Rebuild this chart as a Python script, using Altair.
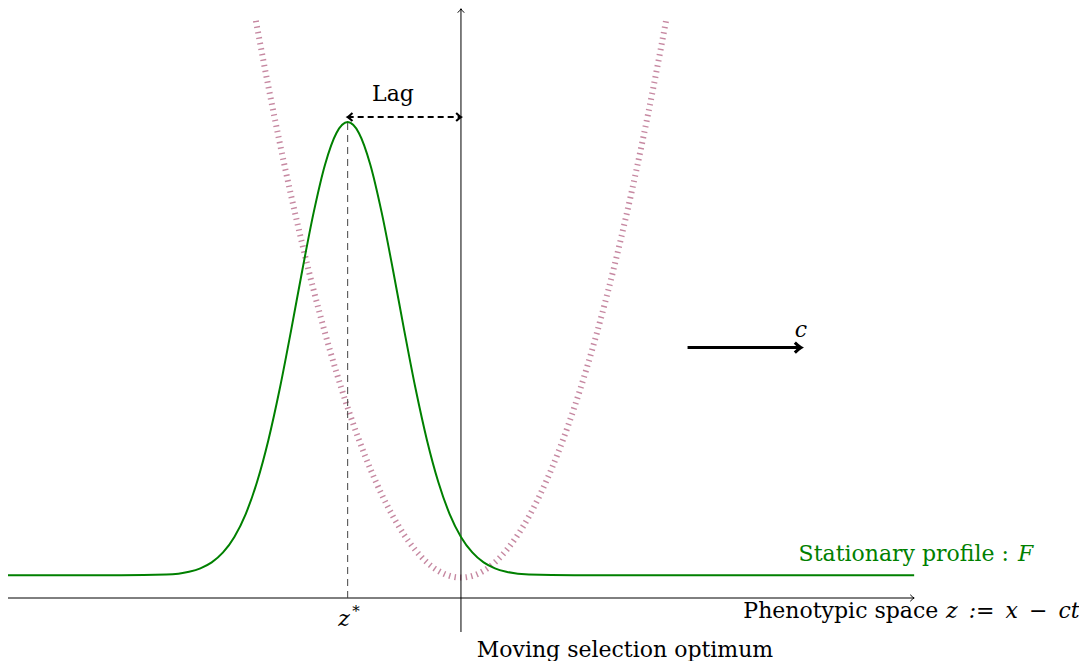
import altair as alt
import pandas as pd

X_DOMAIN = [-3.998, 5.455]
Y_DOMAIN = [-0.556, 5.207]

# Stationary profile F (green)
f_z = [-4.0, -3.0, -2.6, -2.4, -2.3, -2.2, -2.1, -2.0, -1.9, -1.8, -1.7, -1.6, -1.5, -1.4, -1.3,
       -1.2, -1.1, -1.0, -0.9, -0.8, -0.7, -0.6, -0.5, -0.4, -0.3, -0.2, -0.1, 0.0, 0.1, 0.2,
       0.3, 0.4, 0.6, 1.0, 4.0]
f_y = [0.2, 0.2, 0.207, 0.232, 0.262, 0.314, 0.402, 0.539, 0.741, 1.024, 1.393, 1.844, 2.358, 2.895, 3.403,
       3.824, 4.102, 4.2, 4.102, 3.824, 3.403, 2.895, 2.358, 1.844, 1.393, 1.024, 0.741, 0.539, 0.402, 0.314,
       0.262, 0.232, 0.207, 0.2, 0.2]

# Selection function (dotted)
s_z = [-1.81, -1.7, -1.6, -1.5, -1.4, -1.3, -1.2, -1.1, -1.0, -0.9, -0.8, -0.7, -0.6, -0.5, -0.4, -0.3,
       -0.2, -0.1, 0.0, 0.1, 0.2, 0.3, 0.4, 0.5, 0.6, 0.7, 0.8, 0.9, 1.0, 1.1, 1.2, 1.3, 1.4, 1.5,
       1.6, 1.7, 1.81]
s_y = [5.094, 4.515, 4.02, 3.555, 3.12, 2.715, 2.34, 1.995, 1.68, 1.395, 1.14, 0.915, 0.72, 0.555, 0.42, 0.315,
       0.24, 0.195, 0.18, 0.195, 0.24, 0.315, 0.42, 0.555, 0.72, 0.915, 1.14, 1.395, 1.68, 1.995, 2.34, 2.715,
       3.12, 3.555, 4.02, 4.515, 5.094]

z_star = -1.0
peak = 4.2
lag_y = 4.245

xs = alt.Scale(domain=X_DOMAIN, nice=False, zero=False)
ys = alt.Scale(domain=Y_DOMAIN, nice=False, zero=False)


def X(f="z"):
    return alt.X(f"{f}:Q", scale=xs, axis=None)


def Y(f="y"):
    return alt.Y(f"{f}:Q", scale=ys, axis=None)


ARROW = "M-1.2,-1 Q-0.45,-0.25 0,0 Q-0.45,0.25 -1.2,1"

# axes
axes_df = pd.DataFrame({"z": [-4.0, 0.0], "z2": [4.0, 0.0], "y": [0.0, -0.3], "y2": [0.0, 5.2]})
axes = alt.Chart(axes_df).mark_rule(color="black", strokeWidth=1).encode(
    x=X(), x2="z2:Q", y=Y(), y2="y2:Q")
axes_heads_df = pd.DataFrame({"z": [4.0, 0.0], "y": [0.0, 5.2], "angle": [0, 270]})
axes_heads = alt.Chart(axes_heads_df).mark_point(
    shape=ARROW, filled=False, stroke="black", strokeWidth=1, size=42, opacity=1
).encode(x=X(), y=Y(), angle=alt.Angle("angle:Q", scale=None))

# z* dashed
zs_df = pd.DataFrame({"z": [z_star], "y": [0.0], "y2": [peak]})
zs_line = alt.Chart(zs_df).mark_rule(color="#444444", strokeWidth=1, strokeDash=[7, 5]).encode(
    x=X(), y=Y(), y2="y2:Q")

# lag arrow
lag_df = pd.DataFrame({"z": [z_star], "z2": [0.0], "y": [lag_y]})
lag_line = alt.Chart(lag_df).mark_rule(color="black", strokeWidth=2, strokeDash=[6, 4]).encode(
    x=X(), x2="z2:Q", y=Y())
lag_heads_df = pd.DataFrame({"z": [z_star, 0.0], "y": [lag_y, lag_y], "angle": [180, 0]})
lag_heads = alt.Chart(lag_heads_df).mark_point(
    shape=ARROW, filled=False, stroke="black", strokeWidth=2, size=64, opacity=1
).encode(x=X(), y=Y(), angle=alt.Angle("angle:Q", scale=None))

# c arrow
c_df = pd.DataFrame({"z": [2.0], "z2": [3.0], "y": [2.21]})
c_line = alt.Chart(c_df).mark_rule(color="black", strokeWidth=3).encode(x=X(), x2="z2:Q", y=Y())
c_head_df = pd.DataFrame({"z": [3.0], "y": [2.21], "angle": [0]})
c_head = alt.Chart(c_head_df).mark_point(
    shape=ARROW, filled=False, stroke="black", strokeWidth=3, size=100, opacity=1
).encode(x=X(), y=Y(), angle=alt.Angle("angle:Q", scale=None))

# curves
sel_df = pd.DataFrame({"z": s_z, "y": s_y})
sel = alt.Chart(sel_df).mark_line(
    color="#a8486f", opacity=0.65, strokeWidth=6, strokeDash=[1.4, 4.2], interpolate="monotone"
).encode(x=X(), y=Y())

prof_df = pd.DataFrame({"z": f_z, "y": f_y})
prof = alt.Chart(prof_df).mark_line(color="#008000", strokeWidth=2, interpolate="monotone").encode(
    x=X(), y=Y())

FONT = "DejaVu Serif"
FS = 22


def text_layer(labels, zz, yy, align, style="normal", color="black", size=FS):
    df = pd.DataFrame({"label": labels, "z": zz, "y": yy})
    return alt.Chart(df).mark_text(
        align=align, baseline="alphabetic", font=FONT, fontSize=size, fontStyle=style, color=color
    ).encode(x=X(), y=Y(), text="label:N")


t_center = text_layer(["Lag", "Moving selection optimum"], [-0.60, 1.4475], [4.387, -0.521], "center")
t_right = text_layer(["Phenotypic space"], [4.213], [-0.1765], "right")
t_right_it = text_layer(["z\u2002:=\u2002x\u2002−\u2002ct"], [5.46], [-0.1765], "right", style="italic")
t_z = text_layer(["z", "c"], [-1.033, 3.001], [-0.247, 2.304], "center", style="italic")
t_star = text_layer(["*"], [-0.927], [-0.159], "center", size=15)
t_green = text_layer(["Stationary profile :"], [4.837], [0.327], "right", color="#008000")
t_green_it = text_layer(["F"], [4.916], [0.327], "left", style="italic", color="#008000")

chart = alt.layer(
    sel, axes, axes_heads, zs_line, lag_line, lag_heads, c_line, c_head, prof,
    t_center, t_right, t_right_it, t_z, t_star, t_green, t_green_it
).properties(
    width=1071, height=653, autosize=alt.AutoSizeParams(type="none"), padding=0
).configure_view(stroke=None)

chart.save("out.html", embed_options={"renderer": "svg", "actions": False})
